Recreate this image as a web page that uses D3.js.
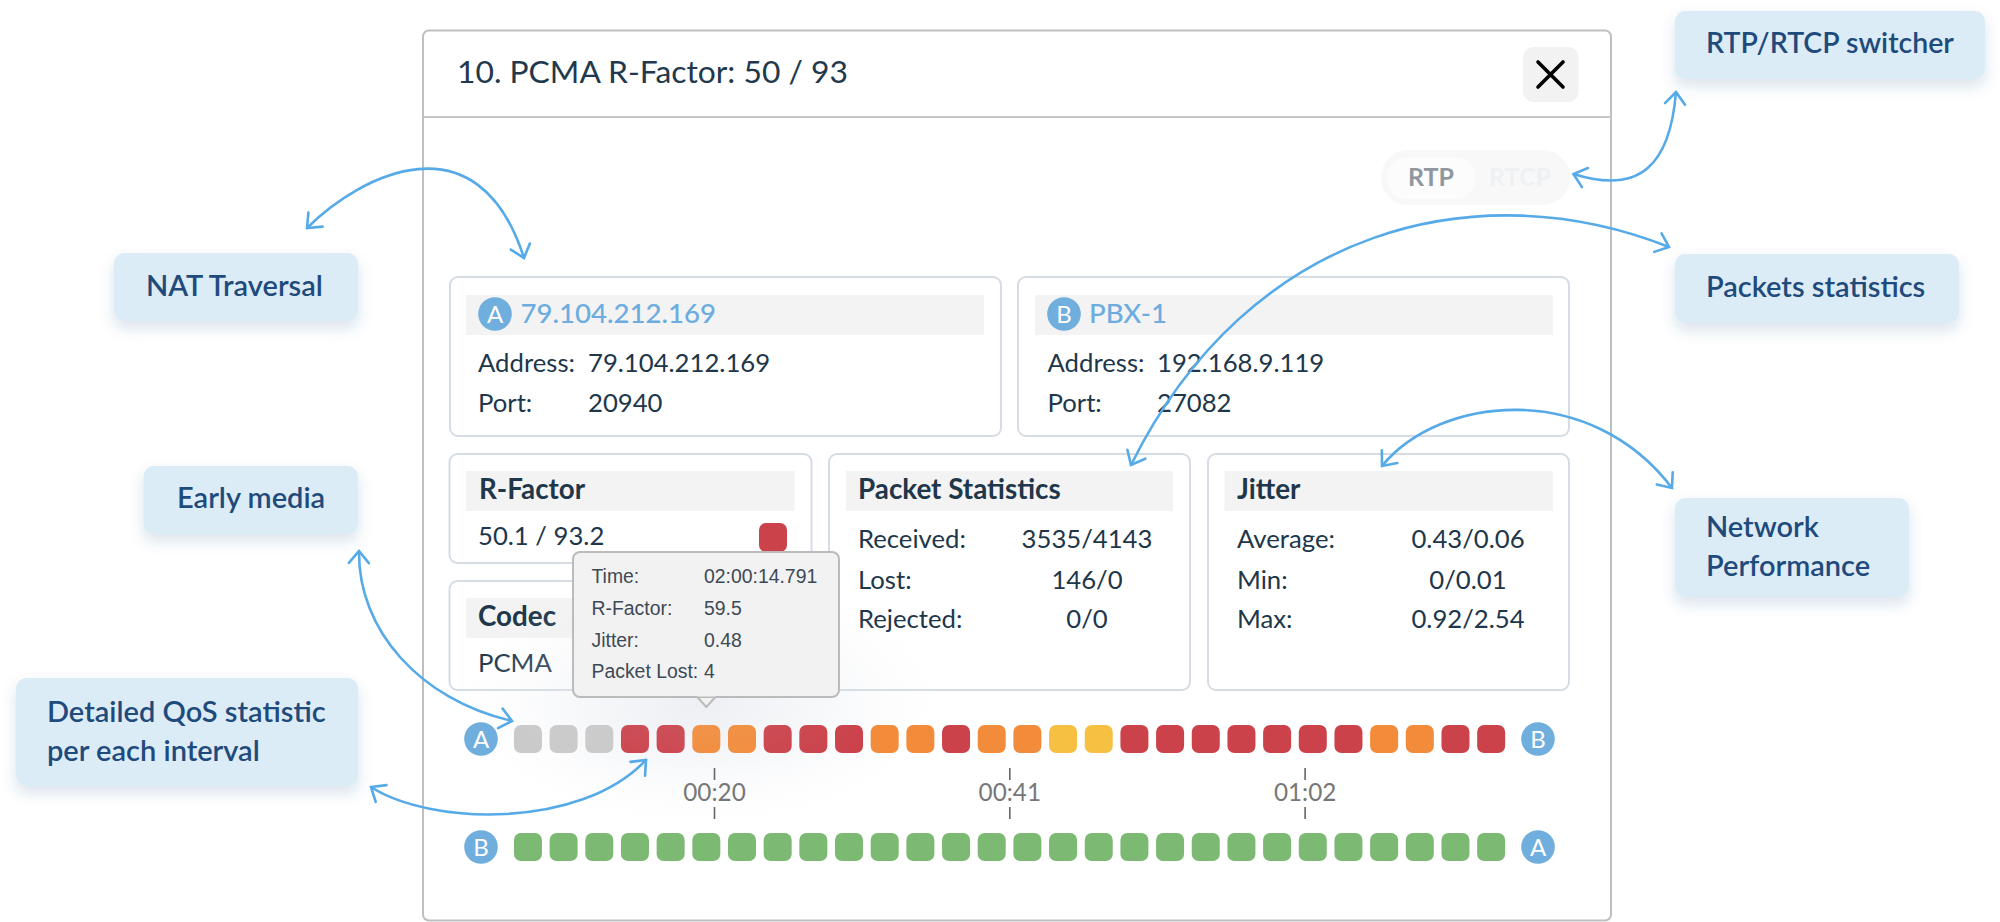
<!DOCTYPE html>
<html><head><meta charset="utf-8">
<script src="https://cdnjs.cloudflare.com/ajax/libs/d3/7.8.5/d3.min.js"></script>
<style>
html,body{margin:0;padding:0;background:#fff}
svg{display:block}
text{font-family:Lato,sans-serif}
</style></head><body>
<svg id="c" width="2000" height="922" viewBox="0 0 2000 922"></svg>
<script>
// ---------- chart data ----------
const qualityAB = ["none","none","none","bad","bad","poor","poor","bad","bad","bad","poor","poor","bad","poor","poor","fair","fair","bad","bad","bad","bad","bad","bad","bad","poor","poor","bad","bad"];
const qualityBA = ["good","good","good","good","good","good","good","good","good","good","good","good","good","good","good","good","good","good","good","good","good","good","good","good","good","good","good","good"];
const qualityLevels = ["none","bad","poor","fair","good"];
const qualityColors = ["#cacaca","#cb424b","#f28b3a","#f6c142","#7cb973"];
const tickSeconds = [20,41,62];
const tickLabels = ["00:20","00:41","01:02"];

const title = "10. PCMA R-Factor: 50 / 93";
const endpointA = {badge:"A",name:"79.104.212.169",address:"79.104.212.169",port:"20940"};
const endpointB = {badge:"B",name:"PBX-1",address:"192.168.9.119",port:"27082"};
const packetRows = [["Received:","3535/4143"],["Lost:","146/0"],["Rejected:","0/0"]];
const jitterRows = [["Average:","0.43/0.06"],["Min:","0/0.01"],["Max:","0.92/2.54"]];
const tooltipRows = [["Time:","02:00:14.791"],["R-Factor:","59.5"],["Jitter:","0.48"],["Packet Lost:","4"]];

const callouts = [
 {x:1675,y:11,w:310,h:68,tx:1706,size:28.5,lines:["RTP/RTCP switcher"],ys:[53]},
 {x:1675,y:254,w:284,h:69,tx:1706,size:29,lines:["Packets statistics"],ys:[297]},
 {x:1675,y:498,w:234,h:99,tx:1706,size:29,lines:["Network","Performance"],ys:[537,576]},
 {x:114,y:253,w:244,h:68,tx:146,size:29,lines:["NAT Traversal"],ys:[296]},
 {x:143.5,y:466,w:214.5,h:68,tx:177,size:29,lines:["Early media"],ys:[508]},
 {x:16,y:678,w:342,h:108,tx:47,size:29,lines:["Detailed QoS statistic","per each interval"],ys:[722,761]}
];
// callout arrows: start, control, control, end
const arrows = [
 [[307,228],[360,175],[478,114],[524,258]],
 [[1676,92],[1670,165],[1640,195],[1573.5,174]],
 [[1131,465],[1250,225],[1480,172],[1669,247]],
 [[1382,466],[1440,395],[1590,380],[1672,488]],
 [[359,551],[358,630],[420,700],[512,721]],
 [[371,787],[430,825],[580,830],[646,760]]
];

// ---------- drawing ----------
const svg = d3.select("#c");
const defs = svg.append("defs");
const ink = "#20364a";
const blue = "#6cace0";
const arrowBlue = "#56aae8";

const ds = defs.append("filter").attr("id","shadow").attr("x","-20%").attr("y","-30%").attr("width","140%").attr("height","170%");
ds.append("feDropShadow").attr("dx",0).attr("dy",7).attr("stdDeviation",7).attr("flood-color","#2c5c92").attr("flood-opacity",0.17);

const glow = defs.append("radialGradient").attr("id","glow");
glow.append("stop").attr("offset","0%").attr("stop-color","#dde2ea").attr("stop-opacity",0.95);
glow.append("stop").attr("offset","50%").attr("stop-color","#e3e7ee").attr("stop-opacity",0.5);
glow.append("stop").attr("offset","100%").attr("stop-color","#eef0f4").attr("stop-opacity",0);

const mk = defs.append("marker").attr("id","head").attr("viewBox","-16 -12 20 24")
  .attr("refX",0).attr("refY",0).attr("markerUnits","userSpaceOnUse")
  .attr("markerWidth",20).attr("markerHeight",24).attr("orient","auto-start-reverse");
mk.append("path").attr("d","M-12,-10 L0,0 L-12,10").attr("fill","none").attr("stroke",arrowBlue).attr("stroke-width",2.6).attr("stroke-linecap","round");

function txt(g,x,y,s,size,opts={}){
  return g.append("text").attr("x",x).attr("y",y).text(s)
    .attr("font-size",size).attr("fill",opts.fill||ink)
    .attr("font-weight",opts.weight||400)
    .attr("text-anchor",opts.anchor||"start")
    .style("font-family",opts.family||null);
}

// modal
const modal = svg.append("g");
modal.append("rect").attr("x",423).attr("y",30.5).attr("width",1188).attr("height",890).attr("rx",6)
  .attr("fill","#fff").attr("stroke","#bdbfc1").attr("stroke-width",2);
modal.append("line").attr("x1",423).attr("x2",1611).attr("y1",117).attr("y2",117).attr("stroke","#c4c6c8").attr("stroke-width",2);
txt(modal,457,83,title,31.8,{fill:"#22384c"});
modal.append("rect").attr("x",1523).attr("y",47).attr("width",55.5).attr("height",55).attr("rx",10).attr("fill","#f2f2f2");
modal.append("path").attr("d","M1538,62 L1563,87 M1563,62 L1538,87").attr("stroke","#000").attr("stroke-width",3.6).attr("stroke-linecap","round");

// switcher
modal.append("rect").attr("x",1381).attr("y",150).attr("width",189).attr("height",55).attr("rx",27).attr("fill","#f8f8f8");
modal.append("rect").attr("x",1387).attr("y",157).attr("width",88).attr("height",42).attr("rx",20).attr("fill","#fcfcfc");
txt(modal,1431,186,"RTP",25,{fill:"#8f979d",anchor:"middle",weight:700});
txt(modal,1520,186,"RTCP",25,{fill:"#eef1f4",anchor:"middle",weight:700});

function panel(x,y,w,h,bx,bw,by){
  const g = svg.append("g");
  g.append("rect").attr("x",x).attr("y",y).attr("width",w).attr("height",h).attr("rx",8)
    .attr("fill","#fff").attr("stroke","#d6dce3").attr("stroke-width",2);
  g.append("rect").attr("x",bx).attr("y",by).attr("width",bw).attr("height",40).attr("fill","#f3f3f3");
  return g;
}
function badge(g,cx,cy,s){
  g.append("circle").attr("cx",cx).attr("cy",cy).attr("r",16.8).attr("fill","#6faedd");
  txt(g,cx,cy+8.5,s,24,{fill:"#fff",anchor:"middle"});
}

const bodySize = 25.7, headSize = 27.8;
function endpoint(d,x,w,bx,bw,cx,nameX,labelX,valX){
  const g = panel(x,277,w,159,bx,bw,295);
  badge(g,cx,314,d.badge);
  txt(g,nameX,323,d.name,27.6,{fill:blue,weight:500});
  txt(g,labelX,372,"Address:",bodySize);
  txt(g,valX,372,d.address,bodySize);
  txt(g,labelX,412,"Port:",bodySize);
  txt(g,valX,412,d.port,bodySize);
}
endpoint(endpointA,450,551,466,518,495,520.5,478,588);
endpoint(endpointB,1018,551,1035,518,1064,1089,1047.5,1157);

const rf = panel(449.5,454,362,109,466,328.5,471);
txt(rf,479,499,"R-Factor",headSize,{weight:700});
txt(rf,478,545,"50.1 / 93.2",bodySize);
rf.append("rect").attr("x",759).attr("y",523).attr("width",28).attr("height",29).attr("rx",7).attr("fill","#cb424b");

const cd = panel(449.5,581,362,109,466,328.5,598);
txt(cd,478,626,"Codec",headSize,{weight:700});
txt(cd,478,672,"PCMA",bodySize);

function stats(x,w,bx,bw,tx,cx,head,rows){
  const g = panel(x,454,w,236,bx,bw,471);
  txt(g,tx,499,head,headSize,{weight:700});
  const ys=[548,589,628];
  rows.forEach((r,i)=>{ txt(g,tx,ys[i],r[0],bodySize); txt(g,cx,ys[i],r[1],bodySize,{anchor:"middle"}); });
}
stats(829,361,846,327,858,1087,"Packet Statistics",packetRows);
stats(1208,361,1224.5,328.5,1237,1468,"Jitter",jitterRows);

// soft shadow of the tooltip, over the panels
svg.append("ellipse").attr("cx",700).attr("cy",700).attr("rx",240).attr("ry",125)
  .attr("fill","url(#glow)").attr("opacity",0.55);

// cells
const xBand = d3.scaleBand().domain(d3.range(qualityAB.length)).range([510.2,1508.9]).paddingInner(0.215).paddingOuter(0.105);
const color = d3.scaleOrdinal().domain(qualityLevels).range(qualityColors);
const yRow = d3.scalePoint().domain(["AB","BA"]).range([739,847]);
const cells = svg.append("g");
[["AB",qualityAB],["BA",qualityBA]].forEach(([k,vals])=>{
  cells.append("g").selectAll("rect").data(vals).join("rect")
    .attr("x",(d,i)=>xBand(i)).attr("width",xBand.bandwidth())
    .attr("y",yRow(k)-14).attr("height",28).attr("rx",7)
    .attr("fill",d=>color(d));
});
badge(cells,481,yRow("AB"),"A"); badge(cells,1538,yRow("AB"),"B");
badge(cells,481,yRow("BA"),"B"); badge(cells,1538,yRow("BA"),"A");
// faint veil of the same shadow on top of the cells
svg.append("ellipse").attr("cx",690).attr("cy",720).attr("rx",190).attr("ry",60)
  .attr("fill","url(#glow)").attr("opacity",0.1);

// time axis
const tScale = d3.scaleLinear().domain([20,62]).range([714,1304.6]);
const ax = d3.axisBottom(tScale).tickValues(tickSeconds).tickSize(51)
  .tickFormat((d,i)=>tickLabels[i]);
const axG = svg.append("g").attr("transform","translate(0,768)").call(ax);
axG.select(".domain").remove();
axG.selectAll(".tick line").attr("stroke","#666").attr("stroke-width",1.6).attr("stroke-dasharray","12 27 12");
axG.selectAll(".tick text").attr("y",33).attr("dy",0).attr("font-size",24.3).attr("fill","#777").style("font-family","Lato,sans-serif");

// tooltip
const tipCx = xBand(5)+xBand.bandwidth()/2;
const tip = svg.append("g");
tip.append("path").attr("d",d3.line()([[tipCx-10,696],[tipCx,707],[tipCx+10,696]]))
  .attr("fill","#f2f2f2").attr("stroke","#bbb").attr("stroke-width",2);
tip.append("rect").attr("x",573).attr("y",552).attr("width",266).attr("height",145).attr("rx",7)
  .attr("fill","#f2f2f2").attr("stroke","#bbb").attr("stroke-width",2);
tip.append("rect").attr("x",tipCx-9).attr("y",694).attr("width",18).attr("height",2.5).attr("fill","#f2f2f2");
const tipY = [583,615,647,678];
tooltipRows.forEach((r,i)=>{
  txt(tip,591.5,tipY[i],r[0],19.4,{fill:"#3d4a56",family:"'Liberation Sans',sans-serif"});
  txt(tip,704,tipY[i],r[1],19.4,{fill:"#3d4a56",family:"'Liberation Sans',sans-serif"});
});

// callouts
const cg = svg.append("g");
callouts.forEach(c=>{
  cg.append("rect").attr("x",c.x).attr("y",c.y).attr("width",c.w).attr("height",c.h).attr("rx",10)
    .attr("fill","#dcecf6").attr("filter","url(#shadow)");
  c.lines.forEach((l,i)=>txt(cg,c.tx,c.ys[i],l,c.size,{fill:"#1f4a7c",weight:600}));
});

// arrows
svg.append("g").selectAll("path").data(arrows).join("path")
  .attr("d",a=>{
    const p = d3.path();
    p.moveTo(a[0][0],a[0][1]);
    p.bezierCurveTo(a[1][0],a[1][1],a[2][0],a[2][1],a[3][0],a[3][1]);
    return p.toString();
  })
  .attr("fill","none").attr("stroke",arrowBlue).attr("stroke-width",2.6)
  .attr("marker-start","url(#head)").attr("marker-end","url(#head)");
</script>
</body></html>
